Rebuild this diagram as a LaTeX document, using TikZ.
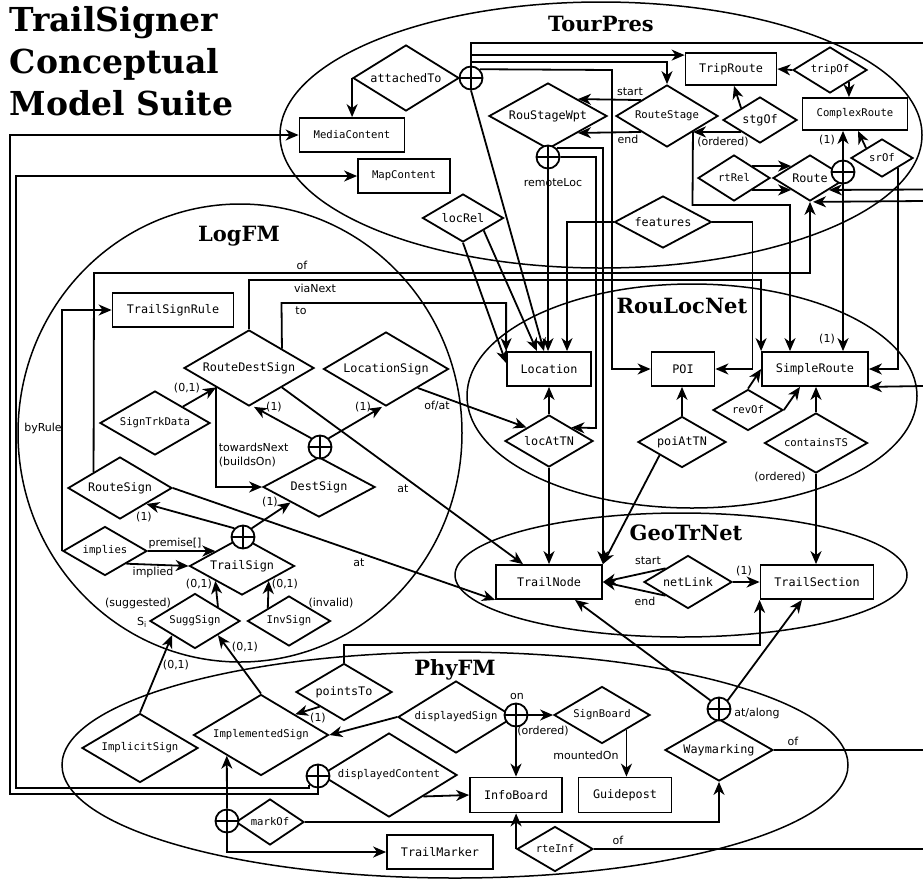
\documentclass[tikz,border=0pt]{standalone}
\usepackage{fontspec}
\setmainfont{DejaVu Sans}
\setmonofont{DejaVu Sans Mono}
\newfontfamily\serifbold{DejaVu Serif}
\usetikzlibrary{shapes.geometric,arrows.meta}

\tikzset{
  ent/.style 2 args={draw, rectangle, inner sep=0pt, minimum width=#1, minimum height=#2,
    font=\ttfamily\fontsize{11.8}{14}\selectfont},
  rel/.style 2 args={draw, diamond, aspect=2, inner sep=0pt, minimum width=#1, minimum height=#2,
    font=\ttfamily\fontsize{11.8}{14}\selectfont},
  smalltxt/.style={font=\ttfamily\fontsize{10.6}{12}\selectfont},
  xor/.style={draw, circle, fill=white, inner sep=0pt, minimum size=23pt,
    path picture={\draw (path picture bounding box.north) -- (path picture bounding box.south)
      (path picture bounding box.west) -- (path picture bounding box.east);}},
  lbl/.style={inner sep=0pt, font=\fontsize{11}{14}\selectfont},
  model/.style={anchor=base, inner sep=0pt, font=\serifbold\bfseries\fontsize{21}{25}\selectfont},
  suite/.style={line width=1.5pt}
}

\begin{document}
\begin{tikzpicture}[x=1pt, y=-1pt, line width=1.8pt, >={Stealth[length=13pt,width=11pt,inset=4pt]}]
%\draw[help lines] (0,0) grid (923,879);
\useasboundingbox (0,0) rectangle (923,879);

\node [anchor=north west, align=left, inner sep=0pt, font=\serifbold\bfseries\fontsize{33}{42}\selectfont] (title) at (9,6) {TrailSigner\\Conceptual\\Model Suite};

% the five models
\draw [suite] (601,135) ellipse [x radius=321, y radius=133];
\draw [suite] (240,433) ellipse [x radius=222, y radius=229];
\draw [suite] (692,396) ellipse [x radius=225, y radius=112];
\draw [suite] (681,575) ellipse [x radius=226, y radius=62];
\draw [suite] (455,765) ellipse [x radius=393, y radius=113];

\node [model] (tTour) at (601,31) {TourPres};
\node [model] (tLog) at (239,241) {LogFM};
\node [model] (tRou) at (682,313) {RouLocNet};
\node [model] (tGeo) at (686,540) {GeoTrNet};
\node [model] (tPhy) at (455,675) {PhyFM};

\coordinate (edgeTop) at (923,43);
\coordinate (edgeR1) at (923,189.5);
\coordinate (edgeR2) at (923,201);
\coordinate (edgeS) at (923,386);
\coordinate (edgeW) at (923,750);
\coordinate (edgeI) at (923,849);

% TourPres
\node [rel={106}{66}] (attachedTo) at (406,78) {attachedTo};
\node [xor] (xorA) at (471,78) {};
\node [ent={105}{34}, smalltxt] (media) at (352,135) {MediaContent};
\node [ent={92}{34}, smalltxt] (map) at (404,176) {MapContent};
\node [rel={118}{66}] (rsw) at (548,116) {RouStageWpt};
\node [xor] (xorB) at (548,157) {};
\node [rel={102}{62}, smalltxt] (rstage) at (667,116) {RouteStage};
\node [ent={91}{32}] (trip) at (731,69) {TripRoute};
\node [rel={74}{46}, smalltxt] (tripOf) at (830,70) {tripOf};
\node [ent={105}{32}, smalltxt] (complex) at (855,114) {ComplexRoute};
\node [rel={74}{46}] (stgOf) at (760,120) {stgOf};
\node [rel={74}{46}] (route) at (810,178) {Route};
\node [xor] (xorR) at (843,172) {};
\node [rel={72}{46}, smalltxt] (rtRel) at (734,178) {rtRel};
\node [rel={62}{38}, smalltxt] (srOf) at (882,158) {srOf};
\node [rel={97}{52}] (features) at (663,222) {features};
\node [rel={81}{48}] (locRel) at (463,218) {locRel};

% LogFM
\node [ent={121}{34}] (rule) at (173,310) {TrailSignRule};
\node [rel={130}{76}] (rds) at (249,368) {RouteDestSign};
\node [rel={125}{74}] (ls) at (386,369) {LocationSign};
\node [rel={110}{64}, smalltxt] (trk) at (155,423) {SignTrkData};
\node [rel={112}{60}] (ds) at (319,487) {DestSign};
\node [xor] (xorDS) at (320,447) {};
\node [rel={104}{62}] (rs) at (120,488) {RouteSign};
\node [rel={84}{49}, smalltxt] (implies) at (105,551) {implies};
\node [rel={105}{58}] (ts) at (242,566) {TrailSign};
\node [xor] (xorT) at (243,537) {};
\node [rel={90}{55}, smalltxt] (sugg) at (195,621) {SuggSign};
\node [rel={83}{50}, smalltxt] (inv) at (289,621) {InvSign};

% RouLocNet
\node [ent={84}{34}] (loc) at (549,369) {Location};
\node [ent={63}{34}] (poi) at (683,369) {POI};
\node [ent={106}{34}] (simple) at (815,369) {SimpleRoute};
\node [rel={88}{52}] (locAtTN) at (549,441) {locAtTN};
\node [rel={88}{51}] (poiAtTN) at (682,442) {poiAtTN};
\node [rel={70}{41}, smalltxt] (revOf) at (748,410) {revOf};
\node [rel={103}{60}, smalltxt] (contTS) at (816,443) {containsTS};

% GeoTrNet
\node [ent={106}{34}] (tn) at (549,582) {TrailNode};
\node [ent={113}{34}] (tsec) at (817,582) {TrailSection};
\node [rel={88}{53}] (netLink) at (688,582) {netLink};

% PhyFM
\node [rel={96}{57}] (pointsTo) at (344,692) {pointsTo};
\node [rel={135}{81}, smalltxt] (impl) at (261,735) {ImplementedSign};
\node [rel={116}{69}, smalltxt] (implicit) at (140,748) {ImplicitSign};
\node [rel={116}{72}, smalltxt] (dsign) at (456,717) {displayedSign};
\node [xor] (xorD) at (516,715) {};
\node [rel={96}{57}, smalltxt] (board) at (602,715) {SignBoard};
\node [ent={92}{35}] (info) at (516,795) {InfoBoard};
\node [ent={93}{35}] (post) at (625,795) {Guidepost};
\node [rel={108}{62}] (way) at (719,750) {Waymarking};
\node [xor] (xorW) at (719,709) {};
\node [rel={136}{84}, smalltxt] (dcont) at (389,775) {displayedContent};
\node [xor] (xorC) at (318,776) {};
\node [rel={68}{46}, smalltxt] (markOf) at (270,822) {markOf};
\node [xor] (xorM) at (227,821) {};
\node [ent={106}{34}] (marker) at (440,852) {TrailMarker};
\node [rel={76}{45}, smalltxt] (rteInf) at (555,849) {rteInf};

% TourPres links
\draw [->] (attachedTo.west) -- (attachedTo.west |- media.north);
\draw (xorA.north) |- (edgeTop);
\draw [->] (xorA.north) |- ([yshift=-3]trip.north west);
\draw [->] (xorA.north) -- (471,62) -| (rstage.north);
\draw [->] (xorA.north east) -- (612,70) |- (poi.west);
\draw [->] (xorA.south) -- ([xshift=-5]loc.north);
\draw [->] (xorB.south) -- (xorB.south |- loc.north);
\draw [->] (xorB.north east) -| (tn.north east);
\draw [->] (xorB.east) -| (596,428) -- (locAtTN.north east);
\draw [->] (rstage.north west) -- (rsw.north east);
\draw [->] (rstage.south west) -- (rsw.south east);
\draw [->] (stgOf.north west) -- ([xshift=3]trip.south);
\draw [->] (stgOf.south west) -- (rstage.south east);
\draw [->] (tripOf.west) -- (trip.east);
\draw [->] (tripOf.south east) -- (tripOf.south east |- complex.north);
\draw [->] (srOf.north west) -- ([xshift=3]complex.south);
\draw [->] (srOf.south east) |- (simple.east);
\draw [->] (xorR.north) -- (xorR.north |- complex.south);
\draw [->] (xorR.south) -- (xorR.south |- simple.north);
\draw [->] (rtRel.north east) -- (route.north west);
\draw [->] (rtRel.south east) -- (route.south west);
\draw [->] (edgeR1) -- (route.south east);
\draw [->] (edgeR2) -- ([xshift=3]route.south);
\draw [->] (rstage.south east) -- (692.5,205) -| ([xshift=-25]simple.north);
\draw [->] (features.west) -| ([xshift=18]loc.north);
\draw [->] (features.east) -- ++(40,0) |- (poi.east);
\draw [->] (locRel.south) -- ([yshift=6]loc.west);
\draw [->] (locRel.south east) -- ([xshift=-12]loc.north);
\draw [->] (edgeS) -- (simple.south east);

% LogFM links
\draw [->] (rs.north west) -- (94,273) -| (route.south);
\draw [->] (rds.north) -- (249,280) -| (simple.north west);
\draw [->] (rds.north east) -- (281.5,303) -| (loc.north west);
\draw [->] (rds.south west) |- (ds.west);
\draw [->] (trk.north east) -- (rds.south west);
\draw [->] (rds.south east) -- ([xshift=-26]tn.north);
\draw [->] (rs.east) -- (tn.south west);
\draw [->] (ls.south east) -- (locAtTN.north west);
\draw [->] (xorDS.north west) -- ([xshift=5]rds.south);
\draw [->] (xorDS.north east) -- ([xshift=-4]ls.south);
\draw [->] (xorT.north west) -- (rs.south east);
\draw [->] (xorT.north east) -- (ds.south west);
\draw [->] (implies.east) -- (ts.north west);
\draw [->] (implies.south east) -- (ts.west);
\draw [->] (implies.west) |- (rule.west);
\draw [->] (sugg.north east) -- (ts.south west);
\draw [->] (inv.north west) -- (ts.south east);

% RouLocNet and GeoTrNet links
\draw [->] (locAtTN.north) -- (loc.south);
\draw [->] (locAtTN.south) -- (tn.north);
\draw [->] (poiAtTN.north) -- (poiAtTN.north |- poi.south);
\draw [->] (poiAtTN.south west) -- (tn.north east);
\draw [->] (revOf.north) -- (simple.west);
\draw [->] (revOf.east) -- ([xshift=-15]simple.south);
\draw [->] (contTS.north) -- (contTS.north |- simple.south);
\draw [->] (contTS.south) -- (contTS.south |- tsec.north);
\draw [->] (netLink.north west) -- (tn.east);
\draw [->] (netLink.south west) -- (tn.east);
\draw [->] (netLink.east) -- (tsec.west);

% PhyFM links
\draw [->] (implicit.north) -- (sugg.south west);
\draw [->] (impl.north) -- (sugg.south east);
\draw [->] (pointsTo.north) -- (344,645) -| (tsec.south west);
\draw [->] (pointsTo.south west) -- (impl.north east);
\draw [->] (dsign.west) -- (impl.east);
\draw [->] (xorD.east) -- (board.west);
\draw [->] (xorD.south) -- (info.north);
\draw [->] (board.south east) -- (board.south east |- post.north);
\draw [->] (dcont.south east) -- (info.west);
\draw [->] (xorC.south) |- (10,794) |- (media.west);
\draw [->] (xorC.south west) |- (16,788) |- (map.west);
\draw [->] (xorM.north) -- (impl.south west);
\draw [->] (xorM.south) |- (marker.west);
\draw [->] (markOf.east) -| (way.south);
\draw [->] (rteInf.west) -- (rteInf.west |- info.south);
\draw (rteInf.east) -- (edgeI);
\draw (way.east) -- (edgeW);
\draw [->] (xorW.north west) -- ([xshift=26]tn.south);
\draw [->] (xorW.north east) -- ([xshift=-15]tsec.south);

% labels
\node [lbl] (lStart1) at (630,92) {start};
\node [lbl] (lEnd1) at (628,139) {end};
\node [lbl] (lOrd1) at (723,142) {(ordered)};
\node [lbl] (lOne1) at (827,140) {(1)};
\node [lbl] (lRemote) at (553,183) {remoteLoc};
\node [lbl] (lOf1) at (302,265) {of};
\node [lbl] (lVia) at (315,288) {viaNext};
\node [lbl] (lTo) at (301,311) {to};
\node [lbl] (lZo1) at (187,388) {(0,1)};
\node [lbl] (lOne2) at (274,407) {(1)};
\node [lbl] (lOne3) at (363,407) {(1)};
\node [lbl] (lOfAt) at (437,406) {of/at};
\node [lbl] (lRule) at (43,428) {byRule};
\node [lbl, anchor=north west, align=left] (lTow) at (218,442) {towardsNext\\(buildsOn)};
\node [lbl] (lOne4) at (144,517) {(1)};
\node [lbl] (lOne5) at (270,502) {(1)};
\node [lbl] (lAt1) at (403,489) {at};
\node [lbl] (lAt2) at (359,563) {at};
\node [lbl] (lPrem) at (175,543) {premise[]};
\node [lbl] (lImpl) at (153,572) {implied};
\node [lbl] (lZo2) at (199,584) {(0,1)};
\node [lbl] (lZo3) at (285,584) {(0,1)};
\node [lbl] (lSugg) at (138,603) {(suggested)};
\node [lbl] (lSi) at (142,622) {S\textsubscript{i}};
\node [lbl] (lInv) at (331,603) {(invalid)};
\node [lbl] (lZo4) at (176,665) {(0,1)};
\node [lbl] (lZo5) at (245,647) {(0,1)};
\node [lbl] (lOne6) at (318,718) {(1)};
\node [lbl] (lOn) at (517,696) {on};
\node [lbl] (lOrd2) at (543,731) {(ordered)};
\node [lbl] (lMount) at (586,755) {mountedOn};
\node [lbl] (lAlong) at (757,713) {at/along};
\node [lbl] (lOf2) at (793,741) {of};
\node [lbl] (lOf3) at (618,840) {of};
\node [lbl] (lOrd3) at (780,477) {(ordered)};
\node [lbl] (lOne7) at (827,339) {(1)};
\node [lbl] (lStart2) at (648,561) {start};
\node [lbl] (lEnd2) at (645,601) {end};
\node [lbl] (lOne8) at (744,571) {(1)};
\end{tikzpicture}
\end{document}
